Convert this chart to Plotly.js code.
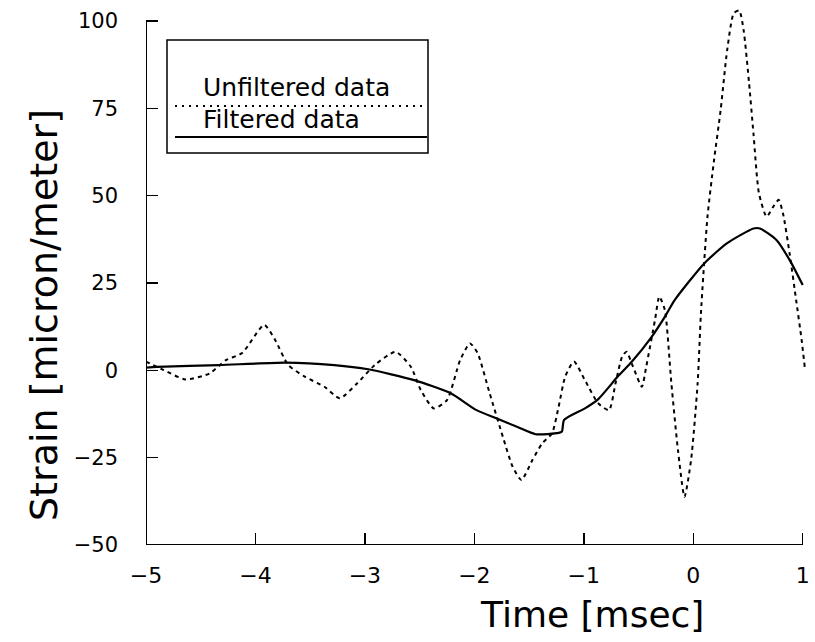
<!DOCTYPE html>
<html>
<head>
<meta charset="utf-8">
<script src="https://cdn.plot.ly/plotly-3.0.1.min.js"></script>
<style>html,body{margin:0;padding:0;background:#fff;}#chart{width:815px;height:642px;}</style>
</head>
<body>
<div id="chart"></div>
<script>
// Unfiltered (dashed) series
const unfilteredX = [-5.0,-4.84,-4.64,-4.42,-4.27,-4.12,-3.92,-3.82,-3.70,-3.55,-3.37,-3.23,-3.07,-2.91,-2.72,-2.58,-2.49,-2.37,-2.25,-2.13,-2.04,-1.97,-1.86,-1.74,-1.65,-1.57,-1.47,-1.38,-1.29,-1.23,-1.17,-1.09,-0.99,-0.87,-0.77,-0.71,-0.65,-0.61,-0.55,-0.47,-0.43,-0.35,-0.31,-0.26,-0.20,-0.14,-0.08,-0.02,0.04,0.07,0.13,0.19,0.25,0.31,0.37,0.42,0.46,0.51,0.55,0.60,0.67,0.73,0.78,0.82,0.88,0.94,0.99,1.02];
const unfilteredY = [2.5,0.1,-2.6,-0.9,2.9,5.0,13.0,8.7,1.5,-1.8,-4.7,-8.0,-3.7,1.5,5.3,1.0,-5.6,-10.9,-8.5,2.9,7.7,4.9,-6.6,-19.0,-27.6,-31.4,-25.7,-20.9,-18.0,-10.4,-1.8,2.5,-2.8,-9.4,-11.4,-3.7,3.9,5.3,1.0,-4.7,1.0,14.4,21.1,17.3,-3.7,-22.8,-36.2,-25.7,-3.7,16.3,44.0,60.2,74.5,91.7,102.2,103.0,97.4,82.2,67.8,50.7,44.0,46.8,48.8,44.9,33.5,20.1,8.7,0.5];
// Filtered (solid) series
const filteredX = [-5.0,-4.9,-4.33,-3.73,-3.28,-2.97,-2.55,-2.22,-1.98,-1.80,-1.60,-1.44,-1.23,-1.20,-1.18,-0.99,-0.87,-0.69,-0.56,-0.38,-0.26,-0.17,0.10,0.31,0.55,0.61,0.76,0.88,1.0];
const filteredY = [0.8,1.0,1.5,2.2,1.5,0.3,-2.8,-6.5,-11.4,-13.7,-16.3,-18.3,-17.9,-17.5,-14.2,-10.9,-8.3,-1.8,2.5,9.6,15.3,20.1,30.6,36.4,40.6,40.6,37.3,31.6,24.4];
// Axis ticks
const xTickVals = [-5,-4,-3,-2,-1,0,1];
const xTickText = ['\u22125','\u22124','\u22123','\u22122','\u22121','0','1'];
const yTickVals = [-50,-25,0,25,50,75,100];
const yTickText = ['\u221250','\u221225','0','25','50','75','100'];
const legendLabels = ['Unfiltered data','Filtered data'];
const axisTitles = ['Time [msec]','Strain [micron/meter]'];

const FONT = 'DejaVu Sans, Noto Sans, sans-serif';
// pixel helpers for the paper-positioned legend / titles (plot area 146..806 x, 7..545 y)
const PL = 146, PW = 660, PB = 545, PH = 538;
const px = v => (v - PL) / PW;
const py = v => (PB - v) / PH;

const traces = [
  {x: unfilteredX, y: unfilteredY, type: 'scatter', mode: 'lines', name: legendLabels[0],
   line: {color: '#000', width: 2, dash: '4px,4px', shape: 'spline', smoothing: 0.6}},
  {x: filteredX, y: filteredY, type: 'scatter', mode: 'lines', name: legendLabels[1],
   line: {color: '#000', width: 2.2, shape: 'spline', smoothing: 0.6}}
];

const layout = {
  width: 815, height: 642,
  margin: {l: 146, r: 9, t: 7, b: 97},
  paper_bgcolor: '#fff', plot_bgcolor: '#fff',
  showlegend: false,
  font: {family: FONT, color: '#000', size: 20},
  xaxis: {
    range: [-5, 1.03], showgrid: false, zeroline: false, showline: false,
    tickmode: 'array', tickvals: xTickVals, ticktext: xTickText,
    ticks: 'inside', ticklen: 12, tickwidth: 1.5, tickcolor: '#000',
    ticklabelstandoff: 15, ticklabeloverflow: 'allow',
    tickfont: {family: FONT, size: 22, color: '#000'},
    automargin: false
  },
  yaxis: {
    range: [-50, 104], showgrid: false, zeroline: false, showline: false,
    tickmode: 'array', tickvals: yTickVals, ticktext: yTickText,
    ticks: 'inside', ticklen: 12, tickwidth: 1.5, tickcolor: '#000',
    ticklabelstandoff: 27, ticklabeloverflow: 'allow',
    tickfont: {family: FONT, size: 21, color: '#000'},
    automargin: false
  },
  shapes: [
    // axis lines
    {type: 'line', xref: 'x', yref: 'y', x0: -5, x1: -5, y0: -50, y1: 100, line: {color: '#000', width: 2}},
    {type: 'line', xref: 'x', yref: 'y', x0: -5, x1: 1, y0: -50, y1: -50, line: {color: '#000', width: 2}},
    // legend box
    {type: 'rect', xref: 'paper', yref: 'paper',
     x0: px(167), x1: px(428), y0: py(153), y1: py(40),
     line: {color: '#000', width: 1.5}, fillcolor: 'rgba(0,0,0,0)'},
    // legend samples
    {type: 'line', xref: 'paper', yref: 'paper',
     x0: px(175), x1: px(423), y0: py(106), y1: py(106),
     line: {color: '#000', width: 1.8, dash: '2px,5px'}},
    {type: 'line', xref: 'paper', yref: 'paper',
     x0: px(175), x1: px(427), y0: py(137), y1: py(137),
     line: {color: '#000', width: 2}}
  ],
  annotations: [
    {xref: 'paper', yref: 'paper', x: px(201), y: py(104), xanchor: 'left', yanchor: 'bottom',
     text: legendLabels[0], showarrow: false, font: {family: FONT, size: 25, color: '#000'}},
    {xref: 'paper', yref: 'paper', x: px(201), y: py(136), xanchor: 'left', yanchor: 'bottom',
     text: legendLabels[1], showarrow: false, font: {family: FONT, size: 25, color: '#000'}},
    // axis titles
    {xref: 'paper', yref: 'paper', x: px(592), y: py(614), xanchor: 'center', yanchor: 'middle',
     text: axisTitles[0], showarrow: false, font: {family: FONT, size: 36, color: '#000'}},
    {xref: 'paper', yref: 'paper', x: px(44), y: py(315), xanchor: 'center', yanchor: 'middle',
     textangle: -90, text: axisTitles[1], showarrow: false, font: {family: FONT, size: 38, color: '#000'}}
  ]
};

Plotly.newPlot('chart', traces, layout, {displayModeBar: false, staticPlot: true});
</script>
</body>
</html>
